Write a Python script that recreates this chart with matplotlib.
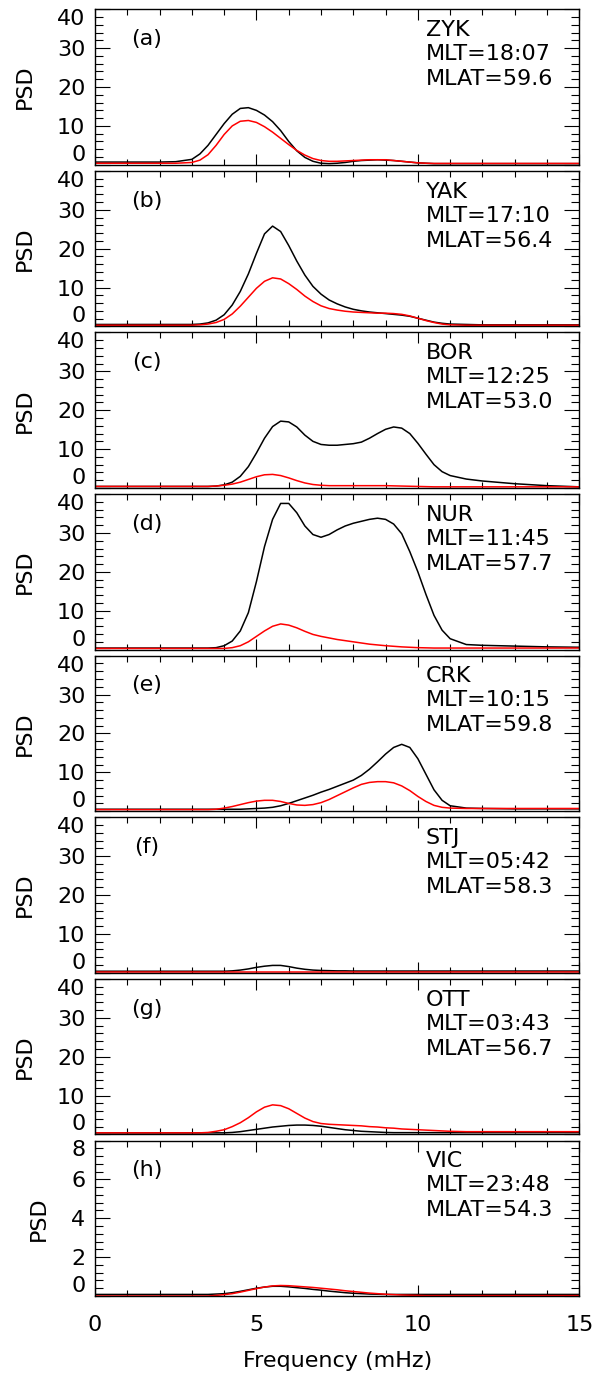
import matplotlib
matplotlib.use('Agg')
import matplotlib.pyplot as plt
from matplotlib.ticker import MultipleLocator

plt.rcParams['font.family'] = ['DejaVu Sans']

# frequency grid (mHz)
freq = [0, 1, 2, 2.5, 3, 3.25, 3.5, 3.75, 4, 4.25, 4.5, 4.75, 5, 5.25, 5.5, 5.75,
        6, 6.25, 6.5, 6.75, 7, 7.25, 7.5, 7.75, 8, 8.25, 8.5, 8.75, 9, 9.25, 9.5,
        9.75, 10, 10.25, 10.5, 10.75, 11, 11.5, 12, 13, 14, 15]

# PSD, black and red curves for each station
zyk_k = [0.7, 0.7, 0.7, 0.8, 1.4, 2.8, 5.0, 7.8, 10.6, 13.0, 14.5, 14.7, 14.0, 12.8, 11.1, 8.8,
         6.0, 3.6, 1.9, 0.9, 0.4, 0.3, 0.4, 0.6, 0.9, 1.1, 1.2, 1.3, 1.2, 1.1, 0.9,
         0.7, 0.5, 0.4, 0.3, 0.3, 0.3, 0.3, 0.3, 0.3, 0.3, 0.3]
zyk_r = [0.4, 0.4, 0.4, 0.4, 0.6, 1.2, 2.6, 5.0, 7.8, 10.0, 11.2, 11.4, 10.9, 9.8, 8.4, 6.8,
         5.2, 3.7, 2.5, 1.6, 1.1, 0.9, 0.9, 1.0, 1.1, 1.2, 1.3, 1.3, 1.3, 1.1, 0.9,
         0.7, 0.5, 0.4, 0.35, 0.35, 0.35, 0.35, 0.35, 0.35, 0.35, 0.35]

yak_k = [0.5, 0.5, 0.5, 0.5, 0.5, 0.6, 0.9, 1.6, 3.0, 5.5, 9.0, 13.5, 18.8, 23.8, 25.8, 24.4,
         20.8, 16.8, 13.2, 10.3, 8.3, 6.8, 5.8, 5.0, 4.4, 4.0, 3.7, 3.5, 3.3, 3.1, 2.9,
         2.6, 2.1, 1.6, 1.1, 0.8, 0.6, 0.5, 0.4, 0.4, 0.4, 0.4]
yak_r = [0.3, 0.3, 0.3, 0.3, 0.3, 0.4, 0.6, 1.0, 1.8, 3.2, 5.2, 7.5, 9.8, 11.6, 12.5, 12.2,
         11.0, 9.5, 7.8, 6.4, 5.3, 4.6, 4.2, 3.9, 3.7, 3.6, 3.5, 3.4, 3.4, 3.3, 3.1,
         2.7, 2.1, 1.5, 1.0, 0.6, 0.4, 0.3, 0.3, 0.3, 0.3, 0.3]

bor_k = [0.4, 0.4, 0.4, 0.4, 0.4, 0.4, 0.4, 0.5, 0.8, 1.5, 3.0, 5.5, 9.0, 12.8, 15.8, 17.2,
         17.0, 15.7, 13.6, 12.0, 11.2, 11.0, 11.0, 11.2, 11.4, 11.8, 12.8, 14.0, 15.1, 15.7, 15.4,
         14.0, 11.5, 8.7, 6.0, 4.2, 3.2, 2.3, 1.8, 1.1, 0.6, 0.3]
bor_r = [0.4, 0.4, 0.4, 0.4, 0.4, 0.4, 0.4, 0.5, 0.7, 1.0, 1.5, 2.2, 2.9, 3.4, 3.5, 3.2,
         2.6, 1.9, 1.3, 0.9, 0.7, 0.6, 0.6, 0.6, 0.6, 0.6, 0.6, 0.6, 0.6, 0.55, 0.5,
         0.45, 0.4, 0.35, 0.3, 0.3, 0.3, 0.3, 0.3, 0.3, 0.3, 0.3]

nur_k = [0.4, 0.4, 0.4, 0.4, 0.4, 0.4, 0.4, 0.5, 1.0, 2.2, 4.8, 9.5, 17.5, 26.5, 33.5, 37.6,
         37.6, 35.2, 31.8, 29.6, 28.9, 29.6, 30.8, 31.8, 32.5, 33.0, 33.5, 33.8, 33.5, 32.3, 29.8,
         25.2, 20.0, 14.2, 8.8, 5.0, 2.8, 1.3, 1.1, 0.9, 0.7, 0.6]
nur_r = [0.3, 0.3, 0.3, 0.3, 0.3, 0.3, 0.3, 0.3, 0.3, 0.5, 1.0, 2.0, 3.4, 4.8, 6.0, 6.6,
         6.3, 5.6, 4.7, 3.9, 3.4, 3.0, 2.6, 2.3, 2.0, 1.7, 1.4, 1.2, 1.0, 0.85, 0.7,
         0.6, 0.5, 0.45, 0.4, 0.4, 0.4, 0.4, 0.4, 0.4, 0.4, 0.4]

crk_k = [0.5, 0.5, 0.5, 0.5, 0.5, 0.5, 0.5, 0.5, 0.5, 0.5, 0.5, 0.6, 0.7, 0.8, 1.0, 1.4,
         2.0, 2.7, 3.4, 4.1, 4.9, 5.6, 6.4, 7.2, 8.0, 9.2, 10.8, 12.7, 14.7, 16.4, 17.2,
         16.4, 13.5, 9.5, 5.5, 2.8, 1.4, 0.8, 0.7, 0.6, 0.6, 0.6]
crk_r = [0.4, 0.4, 0.4, 0.4, 0.4, 0.4, 0.4, 0.5, 0.8, 1.2, 1.7, 2.2, 2.6, 2.8, 2.8, 2.5,
         2.0, 1.6, 1.5, 1.7, 2.2, 3.0, 4.0, 5.0, 6.0, 6.9, 7.4, 7.6, 7.6, 7.3, 6.5,
         5.3, 3.8, 2.5, 1.5, 1.0, 0.8, 0.7, 0.7, 0.7, 0.7, 0.7]

stj_k = [0.4, 0.4, 0.4, 0.4, 0.4, 0.4, 0.4, 0.4, 0.4, 0.5, 0.7, 1.0, 1.4, 1.7, 1.9, 1.9,
         1.6, 1.2, 0.9, 0.7, 0.6, 0.55, 0.5, 0.5, 0.45, 0.45, 0.45, 0.45, 0.45, 0.45, 0.45,
         0.45, 0.45, 0.45, 0.45, 0.45, 0.45, 0.45, 0.45, 0.45, 0.45, 0.45]
stj_r = [0.3] * 42

ott_k = [0.4, 0.4, 0.4, 0.4, 0.4, 0.4, 0.4, 0.4, 0.4, 0.5, 0.7, 1.0, 1.3, 1.6, 1.9, 2.1,
         2.3, 2.4, 2.4, 2.3, 2.1, 1.8, 1.5, 1.2, 1.0, 0.8, 0.7, 0.6, 0.5, 0.45, 0.45,
         0.45, 0.45, 0.45, 0.45, 0.45, 0.45, 0.45, 0.45, 0.45, 0.45, 0.45]
ott_r = [0.4, 0.4, 0.4, 0.4, 0.4, 0.4, 0.5, 0.8, 1.2, 2.0, 3.0, 4.3, 5.8, 7.0, 7.6, 7.4,
         6.6, 5.4, 4.2, 3.3, 2.8, 2.6, 2.5, 2.4, 2.3, 2.2, 2.0, 1.9, 1.7, 1.6, 1.4,
         1.3, 1.2, 1.1, 1.0, 0.9, 0.8, 0.7, 0.7, 0.7, 0.7, 0.7]

vic_k = [0.08, 0.08, 0.08, 0.08, 0.08, 0.08, 0.08, 0.1, 0.12, 0.17, 0.24, 0.32, 0.4, 0.46, 0.5, 0.5,
         0.47, 0.43, 0.39, 0.34, 0.3, 0.25, 0.21, 0.17, 0.14, 0.12, 0.1, 0.09, 0.08, 0.08, 0.08,
         0.08, 0.08, 0.08, 0.08, 0.08, 0.08, 0.08, 0.08, 0.08, 0.08, 0.08]
vic_r = [0.0, 0.0, 0.0, 0.0, 0.0, 0.0, 0.0, 0.03, 0.07, 0.12, 0.2, 0.29, 0.38, 0.46, 0.52, 0.54,
         0.53, 0.5, 0.47, 0.44, 0.4, 0.36, 0.32, 0.27, 0.23, 0.19, 0.15, 0.12, 0.09, 0.07, 0.05,
         0.04, 0.03, 0.02, 0.02, 0.02, 0.02, 0.02, 0.02, 0.02, 0.02, 0.02]

black = [zyk_k, yak_k, bor_k, nur_k, crk_k, stj_k, ott_k, vic_k]
red = [zyk_r, yak_r, bor_r, nur_r, crk_r, stj_r, ott_r, vic_r]
letters = ['(a)', '(b)', '(c)', '(d)', '(e)', '(f)', '(g)', '(h)']
stations = ['ZYK', 'YAK', 'BOR', 'NUR', 'CRK', 'STJ', 'OTT', 'VIC']
mlt = ['18:07', '17:10', '12:25', '11:45', '10:15', '05:42', '03:43', '23:48']
mlat = ['59.6', '56.4', '53.0', '57.7', '59.8', '58.3', '56.7', '54.3']
ymax = [40, 40, 40, 40, 40, 40, 40, 8]

W, H = 596, 1376
fig = plt.figure(figsize=(W / 100, H / 100), dpi=100)

x0, x1 = 95, 579.3
ph = 155.5
pitch = 161.6
fs = 16

for i in range(8):
    top = 9.3 + i * pitch
    ax = fig.add_axes([x0 / W, 1 - (top + ph) / H, (x1 - x0) / W, ph / H])
    ax.plot(freq, black[i], color='black', lw=1.1)
    ax.plot(freq, red[i], color='red', lw=1.1)
    ax.set_xlim(0, 15)
    ax.set_ylim(0, ymax[i])
    ax.xaxis.set_major_locator(MultipleLocator(5))
    ax.xaxis.set_minor_locator(MultipleLocator(1))
    major = ymax[i] / 4
    ax.set_yticks([major * k for k in range(5)])
    ax.set_yticklabels(['%d' % (major * k) for k in range(5)])
    ax.yaxis.set_minor_locator(MultipleLocator(major / 5))
    ax.tick_params(axis='y', which='major', direction='in', length=10.8, width=0.8,
                   left=True, right=True, labelsize=fs, pad=7)
    ax.tick_params(axis='y', which='minor', direction='in', length=5.8, width=0.8,
                   left=True, right=True)
    ax.tick_params(axis='x', which='major', direction='in', length=8, width=0.8,
                   top=True, bottom=True, labelsize=fs, pad=14)
    ax.tick_params(axis='x', which='minor', direction='in', length=4.3, width=0.8,
                   top=True, bottom=True)
    labs = ax.get_yticklabels()
    labs[0].set_va('bottom')
    labs[-1].set_va('top')
    if i < 7:
        ax.tick_params(axis='x', labelbottom=False)
    else:
        ax.set_xlabel('Frequency (mHz)', fontsize=fs, labelpad=11)
    for s in ax.spines.values():
        s.set_linewidth(1.0)
    ax.set_ylabel('PSD', fontsize=fs, labelpad=16)
    ax.text(0.107, 0.77, letters[i], transform=ax.transAxes, fontsize=fs,
            ha='center', va='baseline')
    ax.text(0.683, 0.828, stations[i], transform=ax.transAxes, fontsize=fs, va='baseline')
    ax.text(0.683, 0.674, 'MLT=' + mlt[i], transform=ax.transAxes, fontsize=fs, va='baseline')
    ax.text(0.683, 0.513, 'MLAT=' + mlat[i], transform=ax.transAxes, fontsize=fs, va='baseline')

fig.savefig('out.png', dpi=100)
